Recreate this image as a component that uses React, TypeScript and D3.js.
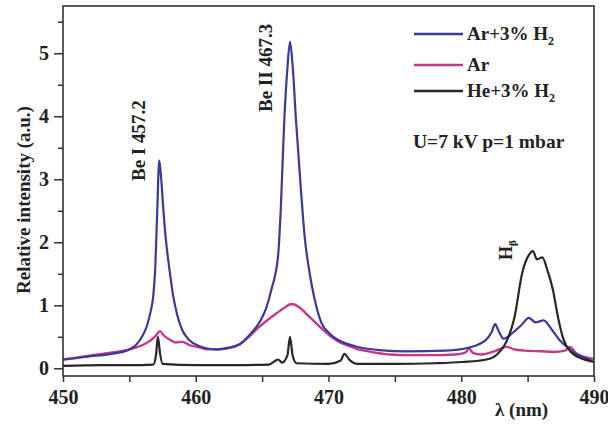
import React, { useRef, useEffect } from 'react';
import * as d3 from 'd3';

// Ar + 3% H2 (blue)
const arH2Wl = [450, 451, 452, 453, 454, 455, 455.5, 456, 456.3, 456.6, 456.8, 456.95, 457.1, 457.25, 457.4, 457.55, 457.7, 457.85, 458.0, 458.3, 458.6, 459.0, 459.5, 460.3, 461, 461.6, 462.5, 463.3, 464.1, 464.8, 465.3, 465.7, 466.2, 466.4, 466.67, 466.9, 467.1, 467.3, 467.55, 467.9, 468.2, 468.57, 468.95, 469.45, 470.1, 471, 472, 473.8, 476, 478.8, 480.6, 481.9, 482.3, 482.55, 482.8, 483.2, 483.8, 484.5, 485.1, 485.6, 486.2, 486.8, 487.4, 487.9, 488.5, 489.2, 489.9];
const arH2Int = [0.14, 0.16, 0.19, 0.21, 0.24, 0.3, 0.37, 0.52, 0.66, 0.9, 1.15, 1.6, 2.5, 3.3, 3.0, 2.55, 2.15, 1.85, 1.6, 1.15, 0.85, 0.6, 0.45, 0.35, 0.31, 0.3, 0.33, 0.38, 0.54, 0.73, 0.95, 1.25, 1.78, 2.5, 3.94, 4.75, 5.18, 4.8, 3.94, 2.9, 2.1, 1.52, 1.1, 0.73, 0.55, 0.42, 0.35, 0.29, 0.27, 0.28, 0.33, 0.46, 0.58, 0.7, 0.6, 0.47, 0.55, 0.68, 0.8, 0.73, 0.76, 0.62, 0.45, 0.35, 0.25, 0.17, 0.12];

// Ar (magenta)
const arWl = [450, 451, 452, 453, 454, 455, 456, 456.5, 457, 457.3, 457.6, 458, 458.5, 459, 459.5, 460.3, 461, 461.6, 462.5, 463.3, 464.1, 464.8, 465.8, 466.6, 467.2, 467.8, 468.35, 469, 469.6, 470.2, 470.8, 471.5, 472.1, 473, 474.6, 476, 478, 479.5, 480.3, 480.6, 480.9, 481.5, 482.5, 483.4, 484, 484.8, 486, 487, 487.8, 488.2, 488.6, 489.3, 490];
const arInt = [0.14, 0.17, 0.2, 0.23, 0.26, 0.3, 0.37, 0.43, 0.52, 0.59, 0.52, 0.46, 0.41, 0.42, 0.37, 0.33, 0.3, 0.3, 0.32, 0.38, 0.52, 0.66, 0.83, 0.95, 1.02, 0.97, 0.86, 0.73, 0.61, 0.5, 0.42, 0.36, 0.31, 0.27, 0.22, 0.21, 0.21, 0.22, 0.25, 0.31, 0.24, 0.22, 0.27, 0.34, 0.3, 0.28, 0.27, 0.26, 0.28, 0.34, 0.25, 0.18, 0.15];

// He + 3% H2 (black)
const heH2Wl = [450, 453, 455, 456.8, 457.0, 457.15, 457.3, 457.5, 460, 463, 465.5, 466.0, 466.2, 466.5, 466.9, 467.1, 467.3, 467.6, 470, 470.9, 471.2, 471.6, 472.2, 475, 478, 480.1, 481.9, 482.7, 483.4, 484, 484.6, 485.1, 485.4, 485.7, 486.1, 486.5, 486.9, 487.3, 487.7, 488.3, 488.9, 490];
const heH2Int = [0.04, 0.05, 0.05, 0.06, 0.2, 0.5, 0.25, 0.07, 0.05, 0.05, 0.06, 0.12, 0.14, 0.09, 0.2, 0.5, 0.2, 0.08, 0.07, 0.12, 0.23, 0.13, 0.07, 0.07, 0.08, 0.1, 0.14, 0.22, 0.42, 0.8, 1.52, 1.8, 1.86, 1.73, 1.76, 1.55, 1.25, 0.8, 0.46, 0.25, 0.17, 0.1];

const xTicks = [450, 455, 460, 465, 470, 475, 480, 485, 490];
const yTicks = [0, 0.5, 1, 1.5, 2, 2.5, 3, 3.5, 4, 4.5, 5, 5.5];

const series = [
  { name: 'Ar', wl: arWl, val: arInt, color: '#c4388e', width: 2.4 },
  { name: 'Ar+3% H2', wl: arH2Wl, val: arH2Int, color: '#3a3a98', width: 2.2 },
  { name: 'He+3% H2', wl: heH2Wl, val: heH2Int, color: '#2b2626', width: 2.2 },
];

const FONT = '"Liberation Serif", "Times New Roman", serif';

export default function App() {
  const gRef = useRef<SVGGElement>(null);

  useEffect(() => {
    const g = d3.select(gRef.current);
    g.selectAll('*').remove();

    const left = 63, right = 594, top = 6, bottom = 376;
    const x = d3.scaleLinear().domain([450, 490]).range([left, right]);
    const y = d3.scaleLinear().domain([-0.122, 5.75]).range([bottom, top]);

    const line = d3.line<[number, number]>()
      .x(d => x(d[0]))
      .y(d => y(d[1]))
      .curve(d3.curveMonotoneX);

    series.forEach(s => {
      const pts = s.wl.map((w, i) => [w, s.val[i]] as [number, number]);
      g.append('path')
        .datum(pts)
        .attr('fill', 'none')
        .attr('stroke', s.color)
        .attr('stroke-width', s.width)
        .attr('stroke-linejoin', 'round')
        .attr('d', line);
    });

    // frame
    g.append('rect')
      .attr('x', left).attr('y', top)
      .attr('width', right - left).attr('height', bottom - top)
      .attr('fill', 'none').attr('stroke', '#333').attr('stroke-width', 1.6);

    // x axis
    const xa = g.append('g')
      .attr('transform', `translate(0,${bottom})`)
      .call(d3.axisBottom(x).tickValues(xTicks).tickSize(6).tickPadding(8)
        .tickFormat(d => (+d % 10 === 0 ? String(d) : '')));
    xa.select('.domain').remove();
    xa.selectAll('line').attr('stroke', '#333').attr('stroke-width', 1.5);
    xa.selectAll('text')
      .attr('font-family', FONT).attr('font-weight', 'bold')
      .attr('font-size', 20).attr('fill', '#222');

    // y axis
    const ya = g.append('g')
      .attr('transform', `translate(${left},0)`)
      .call(d3.axisLeft(y).tickValues(yTicks).tickSize(9).tickPadding(5)
        .tickFormat(d => (Number.isInteger(+d) ? String(d) : '')));
    ya.select('.domain').remove();
    ya.selectAll('.tick line')
      .attr('stroke', '#333').attr('stroke-width', 1.5)
      .attr('x2', (d: any) => (Number.isInteger(+d) ? -9 : -5));
    ya.selectAll('text')
      .attr('font-family', FONT).attr('font-weight', 'bold')
      .attr('font-size', 20).attr('fill', '#222');
  }, []);

  const legendRows = [
    { color: '#3a3a98', label: 'Ar+3% H', sub: '2', y: 34 },
    { color: '#c4388e', label: 'Ar', sub: '', y: 65 },
    { color: '#2b2626', label: 'He+3% H', sub: '2', y: 91 },
  ];

  return (
    <svg width={608} height={424}
      style={{ position: 'absolute', left: 0, top: 0, background: '#fff' }}>
      <g ref={gRef} />
      <g fontFamily={FONT} fontWeight="bold" fill="#222">
        {legendRows.map(r => (
          <g key={r.label}>
            <line x1={414} x2={463} y1={r.y} y2={r.y} stroke={r.color} strokeWidth={2.4} />
            <text x={467} y={r.y + 6} fontSize={19}>
              {r.label}
              {r.sub && <tspan dy={5} fontSize={12}>{r.sub}</tspan>}
            </text>
          </g>
        ))}
        <text x={413} y={148} fontSize={19.5}>U=7 kV p=1 mbar</text>
        <text transform="translate(145,181) rotate(-90)" fontSize={19}>Be I 457.2</text>
        <text transform="translate(272,112) rotate(-90)" fontSize={19}>Be II 467.3</text>
        <text transform="translate(512,260) rotate(-90)" fontSize={18}>
          H<tspan dy={4} fontSize={11}>β</tspan>
        </text>
        <text transform="translate(30,200) rotate(-90)" fontSize={19} textAnchor="middle">
          Relative intensity (a.u.)
        </text>
        <text x={495} y={416} fontSize={19}>λ (nm)</text>
      </g>
    </svg>
  );
}
